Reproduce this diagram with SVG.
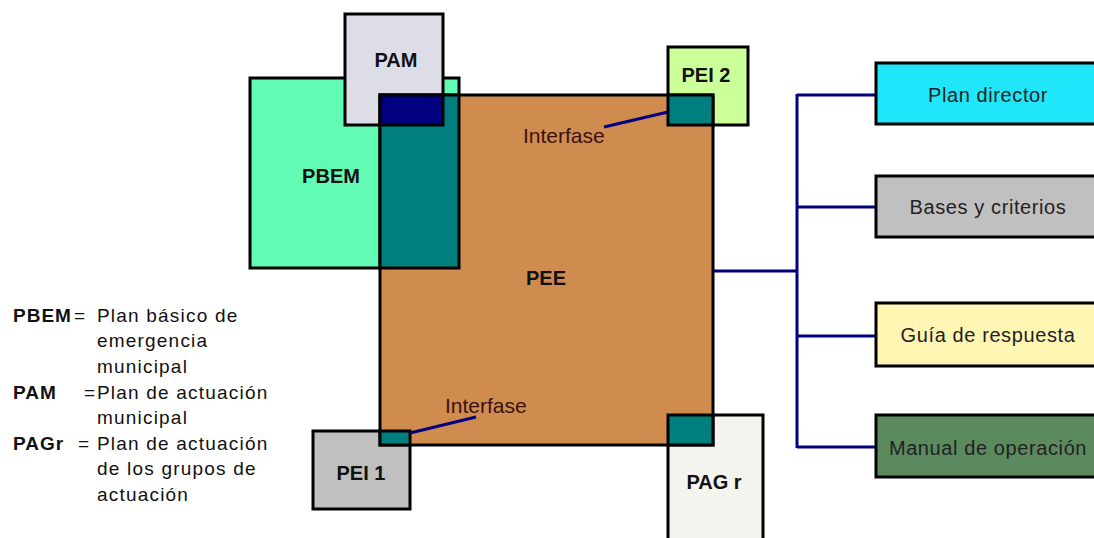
<svg xmlns="http://www.w3.org/2000/svg" width="1094" height="538" viewBox="0 0 1094 538">
<style>
.box{stroke:#000;stroke-width:3}
.lbl{font-family:"Liberation Sans",Arial,sans-serif;font-weight:bold;font-size:20px;fill:#111;text-anchor:middle}
.itf{font-family:"Liberation Sans",Arial,sans-serif;font-size:21px;fill:#3a1212}
.txt{font-family:"Liberation Sans",Arial,sans-serif;font-size:20px;letter-spacing:0.6px;fill:#222;text-anchor:middle}
.leg{font-family:"Liberation Sans",Arial,sans-serif;font-size:19px;letter-spacing:1.2px;fill:#111}
.legb{font-family:"Liberation Sans",Arial,sans-serif;font-size:19px;font-weight:bold;letter-spacing:1px;fill:#111}
.con{stroke:#000080;stroke-width:3;fill:none}
</style>
<rect width="1094" height="538" fill="#fff"/>
<g id="PBEM">
<rect class="box" x="250" y="78" width="209" height="190" fill="#62FBB4"/>
<text class="lbl" x="331" y="183">PBEM</text>
</g>
<g id="PAM">
<rect class="box" x="345" y="14" width="98" height="111" fill="#DDDDE8"/>
<text class="lbl" x="396" y="67">PAM</text>
</g>
<g id="PEI2">
<rect class="box" x="668" y="47" width="80" height="78" fill="#CCFF99"/>
<text class="lbl" x="706" y="82">PEI 2</text>
</g>
<g id="PEI1">
<rect class="box" x="313" y="431" width="97" height="78" fill="#C0C0C0"/>
<text class="lbl" x="361" y="480">PEI 1</text>
</g>
<g id="PAGr">
<rect class="box" x="668" y="415" width="95" height="130" fill="#F4F4EF"/>
<text class="lbl" x="714" y="489">PAG r</text>
</g>
<g id="PEE">
<rect class="box" x="380" y="95" width="333" height="350" fill="#D08B4E"/>
<rect class="box" x="380" y="95" width="79" height="173" fill="#007F7F"/>
<rect class="box" x="380" y="95" width="63" height="30" fill="#000080"/>
<rect class="box" x="668" y="95" width="45" height="30" fill="#007F7F"/>
<rect class="box" x="380" y="431" width="30" height="14" fill="#007F7F"/>
<rect class="box" x="668" y="415" width="45" height="30" fill="#007F7F"/>
<text class="lbl" x="546" y="285">PEE</text>
</g>
<g id="interfaces">
<line class="con" x1="604" y1="127" x2="668" y2="112"/>
<text class="itf" x="523" y="143">Interfase</text>
<line class="con" x1="410" y1="433" x2="476" y2="417"/>
<text class="itf" x="445" y="413">Interfase</text>
</g>
<g id="connectors">
<line class="con" x1="713" y1="271" x2="797" y2="271"/>
<line class="con" x1="797" y1="94" x2="797" y2="448"/>
<line class="con" x1="797" y1="95" x2="876" y2="95"/>
<line class="con" x1="797" y1="207" x2="876" y2="207"/>
<line class="con" x1="797" y1="336" x2="876" y2="336"/>
<line class="con" x1="797" y1="447" x2="876" y2="447"/>
</g>
<g id="plan-director">
<rect class="box" x="876" y="63" width="230" height="61" fill="#1FE6FA"/>
<text class="txt" x="988" y="102" fill="#1a2a4a">Plan director</text>
</g>
<g id="bases">
<rect class="box" x="876" y="176" width="230" height="61" fill="#C0C0C0"/>
<text class="txt" x="988" y="214">Bases y criterios</text>
</g>
<g id="guia">
<rect class="box" x="876" y="303" width="230" height="63" fill="#FFF6B4"/>
<text class="txt" x="988" y="342">Guía de respuesta</text>
</g>
<g id="manual">
<rect class="box" x="876" y="415" width="230" height="62" fill="#5A8A5E"/>
<text class="txt" x="988" y="455" fill="#111">Manual de operación</text>
</g>
<g id="legend">
<text class="legb" x="13" y="322">PBEM</text>
<text class="leg" x="74" y="322">=</text>
<text class="leg" x="97" y="322">Plan básico de</text>
<text class="leg" x="97" y="347">emergencia</text>
<text class="leg" x="97" y="373">municipal</text>
<text class="legb" x="13" y="399">PAM</text>
<text class="leg" x="84" y="399">=</text>
<text class="leg" x="97" y="399">Plan de actuación</text>
<text class="leg" x="97" y="424">municipal</text>
<text class="legb" x="13" y="450">PAGr</text>
<text class="leg" x="78" y="450">=</text>
<text class="leg" x="97" y="450">Plan de actuación</text>
<text class="leg" x="97" y="475">de los grupos de</text>
<text class="leg" x="97" y="501">actuación</text>
</g>
</svg>
